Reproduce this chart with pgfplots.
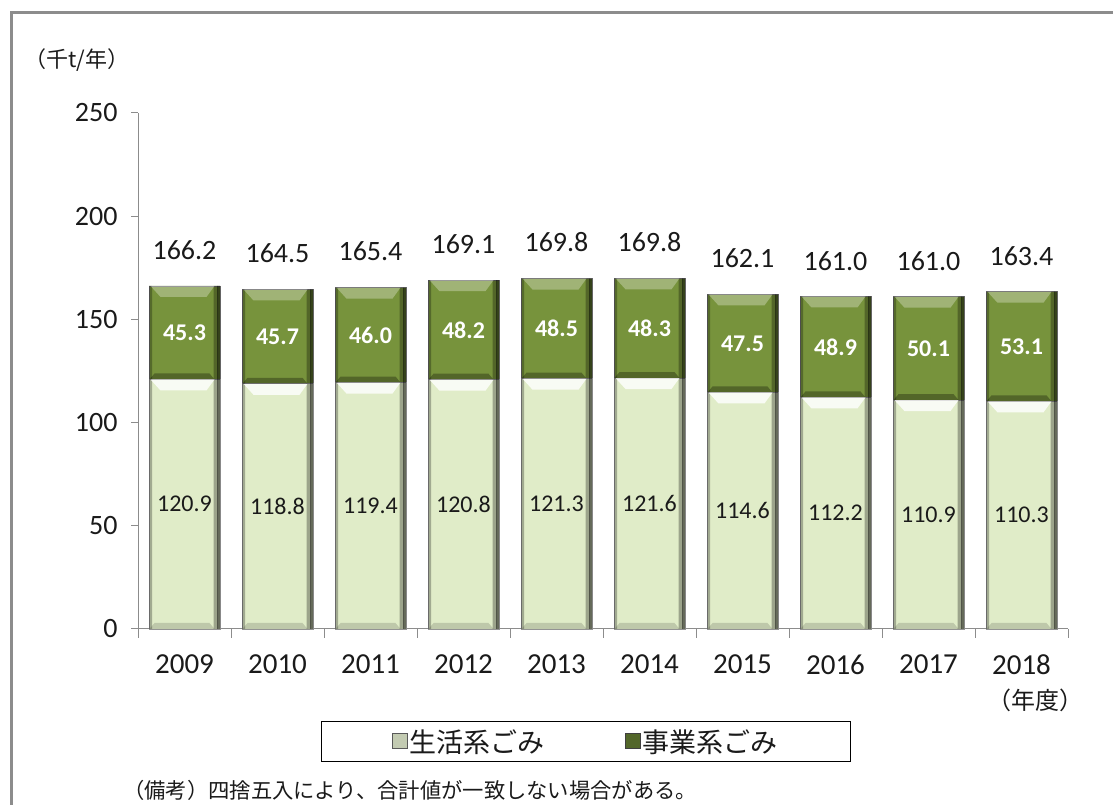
\documentclass[border=0pt]{standalone}
\usepackage{fontspec}
\setmainfont{Carlito}
\newfontfamily\jp{Noto Sans CJK JP}
\usepackage{pgfplots}
\pgfplotsset{compat=1.18}
\usepackage{pgfplotstable}

\definecolor{lightg}{HTML}{E0ECC8}
\definecolor{darkg}{HTML}{77933C}
\definecolor{axgray}{HTML}{8C8C8C}
\definecolor{txt}{HTML}{1A1A1A}

\pgfplotstableread{
x home biz total
0 120.9 45.3 166.2
1 118.8 45.7 164.5
2 119.4 46.0 165.4
3 120.8 48.2 169.1
4 121.3 48.5 169.8
5 121.6 48.3 169.8
6 114.6 47.5 162.1
7 112.2 48.9 161.0
8 110.9 50.1 161.0
9 110.3 53.1 163.4
}\data

% bevel pieces, in pt around a bar-top / bar-bottom point
\pgfdeclareplotmark{toplight}{%
  \pgfpathmoveto{\pgfpoint{-34pt}{0pt}}%
  \pgfpathlineto{\pgfpoint{30pt}{0pt}}%
  \pgfpathlineto{\pgfpoint{22pt}{-11pt}}%
  \pgfpathlineto{\pgfpoint{-24pt}{-11pt}}%
  \pgfpathclose\pgfusepathqfill}
\pgfdeclareplotmark{botdark}{%
  \pgfpathmoveto{\pgfpoint{-35pt}{0pt}}%
  \pgfpathlineto{\pgfpoint{30pt}{0pt}}%
  \pgfpathlineto{\pgfpoint{25pt}{6pt}}%
  \pgfpathlineto{\pgfpoint{-30pt}{6pt}}%
  \pgfpathclose\pgfusepathqfill}

\begin{document}
\begin{tikzpicture}[x=1pt,y=1pt]
\useasboundingbox (0,0) rectangle (1113,805);
\draw[axgray, line width=2.5pt] (11.5,0) -- (11.5,792.5) -- (1113,792.5);

\begin{axis}[
  at={(138pt,176pt)}, anchor=south west,
  scale only axis, width=930pt, height=516pt,
  xmin=-0.5, xmax=9.5, ymin=0, ymax=250,
  clip=false,
  axis lines*=left,
  axis line style={axgray, line width=1pt},
  tick style={axgray, line width=1pt},
  tick align=outside,
  xtick={0,...,9},
  xticklabels={2009,2010,2011,2012,2013,2014,2015,2016,2017,2018},
  major x tick style={draw=none},
  minor xtick={-0.5,0.5,...,9.5},
  minor tick length=9pt,
  ytick={0,50,...,250},
  major tick length=7pt,
  /pgf/number format/assume math mode=true,
  yticklabel style={font=\fontsize{28}{30}\selectfont, text=txt, xshift=-10pt},
  xticklabel style={font=\fontsize{29}{31}\selectfont, text=txt, yshift=-15pt},
  legend style={at={(0.4817,-0.218)}, anchor=center, draw=black, line width=1pt,
    font=\jp\fontsize{27}{30}\selectfont, text=txt,
    inner xsep=71pt, inner ysep=6pt,
    /tikz/every even column/.append style={column sep=78pt}},
  legend columns=2,
  legend image code/.code={\draw[#1] (0pt,-7pt) rectangle (15pt,8pt);},
  nodes near coords={\pgfmathprintnumber[fixed,fixed zerofill,precision=1]{\pgfplotspointmeta}},
]
\addlegendimage{fill=lightg!70!gray, draw=gray!70!black, line width=0.8pt}
\addlegendimage{fill=darkg!70!black, draw=gray!50!black, line width=0.8pt}

% full stack (dark) and lower part (light)
\addplot[forget plot, ybar, bar width=71pt, bar shift=0pt, fill=darkg, draw=gray!85!black, line width=0.8pt, nodes near coords=]
  table[x=x, y expr=\thisrow{home}+\thisrow{biz}] {\data};
\addplot[forget plot, ybar, bar width=71pt, bar shift=0pt, fill=lightg, draw=gray!85, line width=0.8pt, nodes near coords=]
  table[x=x, y=home] {\data};
% side shading
\addplot[forget plot, ybar, bar width=3pt, bar shift=34pt, fill=black, fill opacity=0.55, draw=none, nodes near coords=]
  table[x=x, y expr=\thisrow{home}+\thisrow{biz}] {\data};
\addplot[forget plot, ybar, bar width=4pt, bar shift=31pt, fill=black, fill opacity=0.3, draw=none, nodes near coords=]
  table[x=x, y expr=\thisrow{home}+\thisrow{biz}] {\data};
\addplot[forget plot, ybar, bar width=3pt, bar shift=-34pt, fill=black, fill opacity=0.28, draw=none, nodes near coords=]
  table[x=x, y expr=\thisrow{home}+\thisrow{biz}] {\data};
% top highlights and bottom shades
\addplot[forget plot, only marks, mark=toplight, mark options={fill=white, fill opacity=0.8, draw=none}, nodes near coords=]
  table[x=x, y=home] {\data};
\addplot[forget plot, only marks, mark=toplight, mark options={fill=white, fill opacity=0.3, draw=none}, nodes near coords=]
  table[x=x, y expr=\thisrow{home}+\thisrow{biz}] {\data};
\addplot[forget plot, only marks, mark=botdark, mark options={fill=black, fill opacity=0.3, draw=none}, nodes near coords=]
  table[x=x, y=home] {\data};
\addplot[forget plot, only marks, mark=botdark, mark options={fill=black, fill opacity=0.15, draw=none}, nodes near coords=]
  table[x=x, y expr=0] {\data};

% value labels
\addplot[forget plot, draw=none, mark=none, point meta=explicit,
  nodes near coords style={anchor=center, font=\fontsize{24}{26}\selectfont, text=txt}]
  table[x=x, y expr=\thisrow{home}/2, meta=home] {\data};
\addplot[forget plot, draw=none, mark=none, point meta=explicit,
  nodes near coords style={anchor=center, font=\bfseries\fontsize{24}{26}\selectfont, text=white}]
  table[x=x, y expr=\thisrow{home}+\thisrow{biz}/2, meta=biz] {\data};
\addplot[forget plot, draw=none, mark=none, point meta=explicit,
  nodes near coords style={anchor=center, yshift=36pt, font=\fontsize{28}{30}\selectfont, text=txt}]
  table[x=x, y=total, meta=total] {\data};

\legend{生活系ごみ, 事業系ごみ}
\node[font=\jp\fontsize{24}{26}\selectfont, text=txt] at (axis cs:9,0) [yshift=-71pt, xshift=14pt] {（年度）};
\end{axis}

\node[font=\jp\fontsize{22}{24}\selectfont, text=txt] at (77,745) {（千t/年）};
\node[font=\jp\fontsize{21.3}{23}\selectfont, text=txt, anchor=west, inner sep=0pt] at (123,15) {（備考）四捨五入により、合計値が一致しない場合がある。};
\end{tikzpicture}
\end{document}
